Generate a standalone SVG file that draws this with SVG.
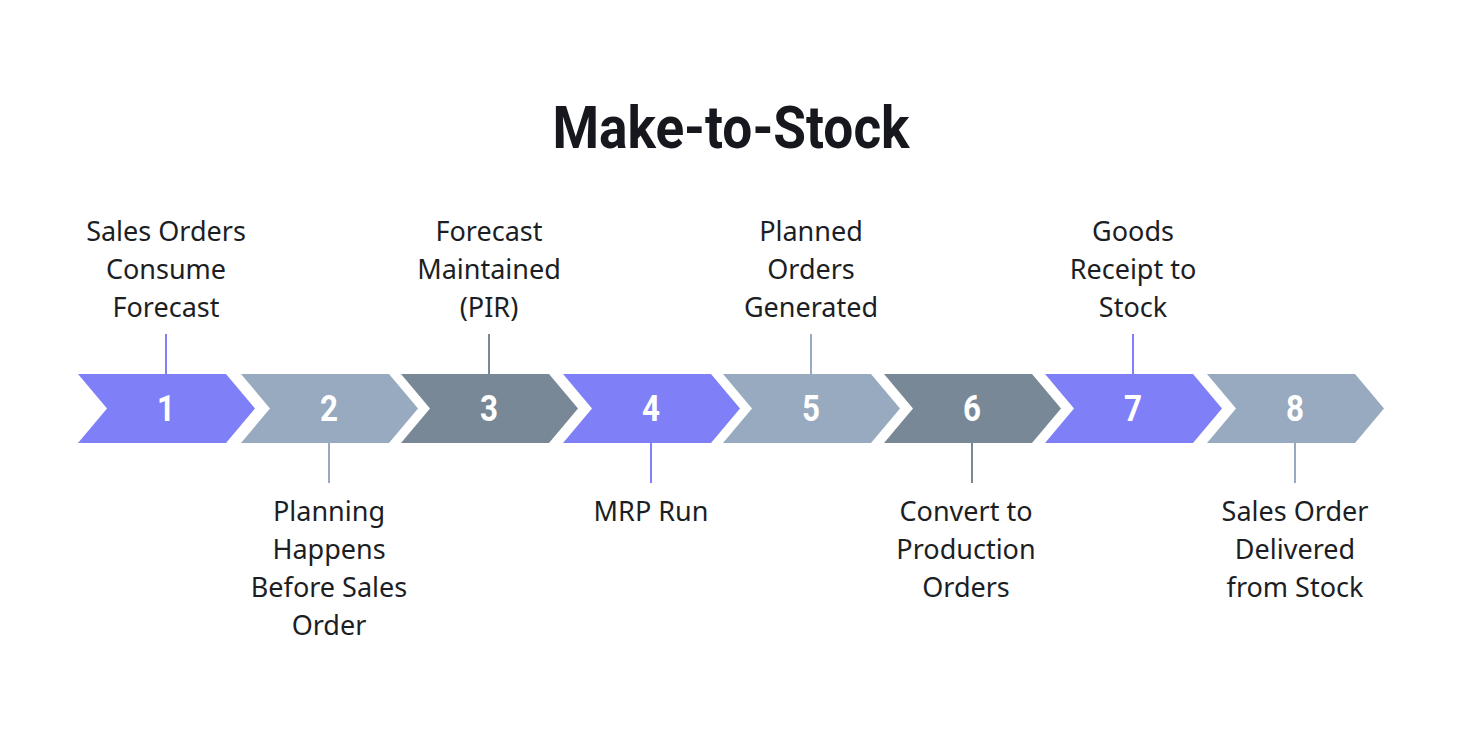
<svg xmlns="http://www.w3.org/2000/svg" width="1460" height="744" viewBox="0 0 1460 744">
<style>
.t{font-family:Roboto,"Liberation Sans",sans-serif;font-weight:bold;fill:#16181d}
.n{font-family:Roboto,"Liberation Sans",sans-serif;font-weight:bold;font-size:36px;fill:#fff;text-anchor:middle}
.l{font-family:"Noto Sans","Open Sans",sans-serif;font-size:27px;fill:#1c1e24;text-anchor:middle}
.p{fill:#7f80f7}.g{fill:#97aac0}.d{fill:#788896}
.cp{stroke:#7f80f7;stroke-width:2}.cg{stroke:#97aac0;stroke-width:2}.cd{stroke:#788896;stroke-width:2}
</style>
<rect width="1460" height="744" fill="#fff"/>
<text class="t" x="731" y="148" font-size="60" text-anchor="middle" textLength="357" lengthAdjust="spacingAndGlyphs">Make-to-Stock</text>
<defs><path id="ch" d="M0,0 H148 L177,34.5 L148,69 H0 L29,34.5 Z"/></defs>
<g id="connectors">
<line class="cp" x1="166" y1="334" x2="166" y2="374"/>
<line class="cg" x1="329" y1="443" x2="329" y2="483"/>
<line class="cd" x1="489" y1="334" x2="489" y2="374"/>
<line class="cp" x1="651" y1="443" x2="651" y2="483"/>
<line class="cg" x1="811" y1="334" x2="811" y2="374"/>
<line class="cd" x1="972" y1="443" x2="972" y2="483"/>
<line class="cp" x1="1133" y1="334" x2="1133" y2="374"/>
<line class="cg" x1="1295" y1="443" x2="1295" y2="483"/>
</g>
<g id="n1"><use href="#ch" class="p" x="78" y="374"/><text class="n" x="166" y="421" textLength="18" lengthAdjust="spacingAndGlyphs">1</text>
<text class="l" x="166" y="241">Sales Orders</text><text class="l" x="166" y="279">Consume</text><text class="l" x="166" y="317">Forecast</text></g>
<g id="n2"><use href="#ch" class="g" x="241" y="374"/><text class="n" x="329" y="421" textLength="18" lengthAdjust="spacingAndGlyphs">2</text>
<text class="l" x="329" y="521">Planning</text><text class="l" x="329" y="559">Happens</text><text class="l" x="329" y="597">Before Sales</text><text class="l" x="329" y="635">Order</text></g>
<g id="n3"><use href="#ch" class="d" x="401" y="374"/><text class="n" x="489" y="421" textLength="18" lengthAdjust="spacingAndGlyphs">3</text>
<text class="l" x="489" y="241">Forecast</text><text class="l" x="489" y="279">Maintained</text><text class="l" x="489" y="317">(PIR)</text></g>
<g id="n4"><use href="#ch" class="p" x="563" y="374"/><text class="n" x="651" y="421" textLength="18" lengthAdjust="spacingAndGlyphs">4</text>
<text class="l" x="651" y="521">MRP Run</text></g>
<g id="n5"><use href="#ch" class="g" x="723" y="374"/><text class="n" x="811" y="421" textLength="18" lengthAdjust="spacingAndGlyphs">5</text>
<text class="l" x="811" y="241">Planned</text><text class="l" x="811" y="279">Orders</text><text class="l" x="811" y="317">Generated</text></g>
<g id="n6"><use href="#ch" class="d" x="884" y="374"/><text class="n" x="972" y="421" textLength="18" lengthAdjust="spacingAndGlyphs">6</text>
<text class="l" x="966" y="521">Convert to</text><text class="l" x="966" y="559">Production</text><text class="l" x="966" y="597">Orders</text></g>
<g id="n7"><use href="#ch" class="p" x="1045" y="374"/><text class="n" x="1133" y="421" textLength="18" lengthAdjust="spacingAndGlyphs">7</text>
<text class="l" x="1133" y="241">Goods</text><text class="l" x="1133" y="279">Receipt to</text><text class="l" x="1133" y="317">Stock</text></g>
<g id="n8"><use href="#ch" class="g" x="1207" y="374"/><text class="n" x="1295" y="421" textLength="18" lengthAdjust="spacingAndGlyphs">8</text>
<text class="l" x="1295" y="521">Sales Order</text><text class="l" x="1295" y="559">Delivered</text><text class="l" x="1295" y="597">from Stock</text></g>
</svg>
